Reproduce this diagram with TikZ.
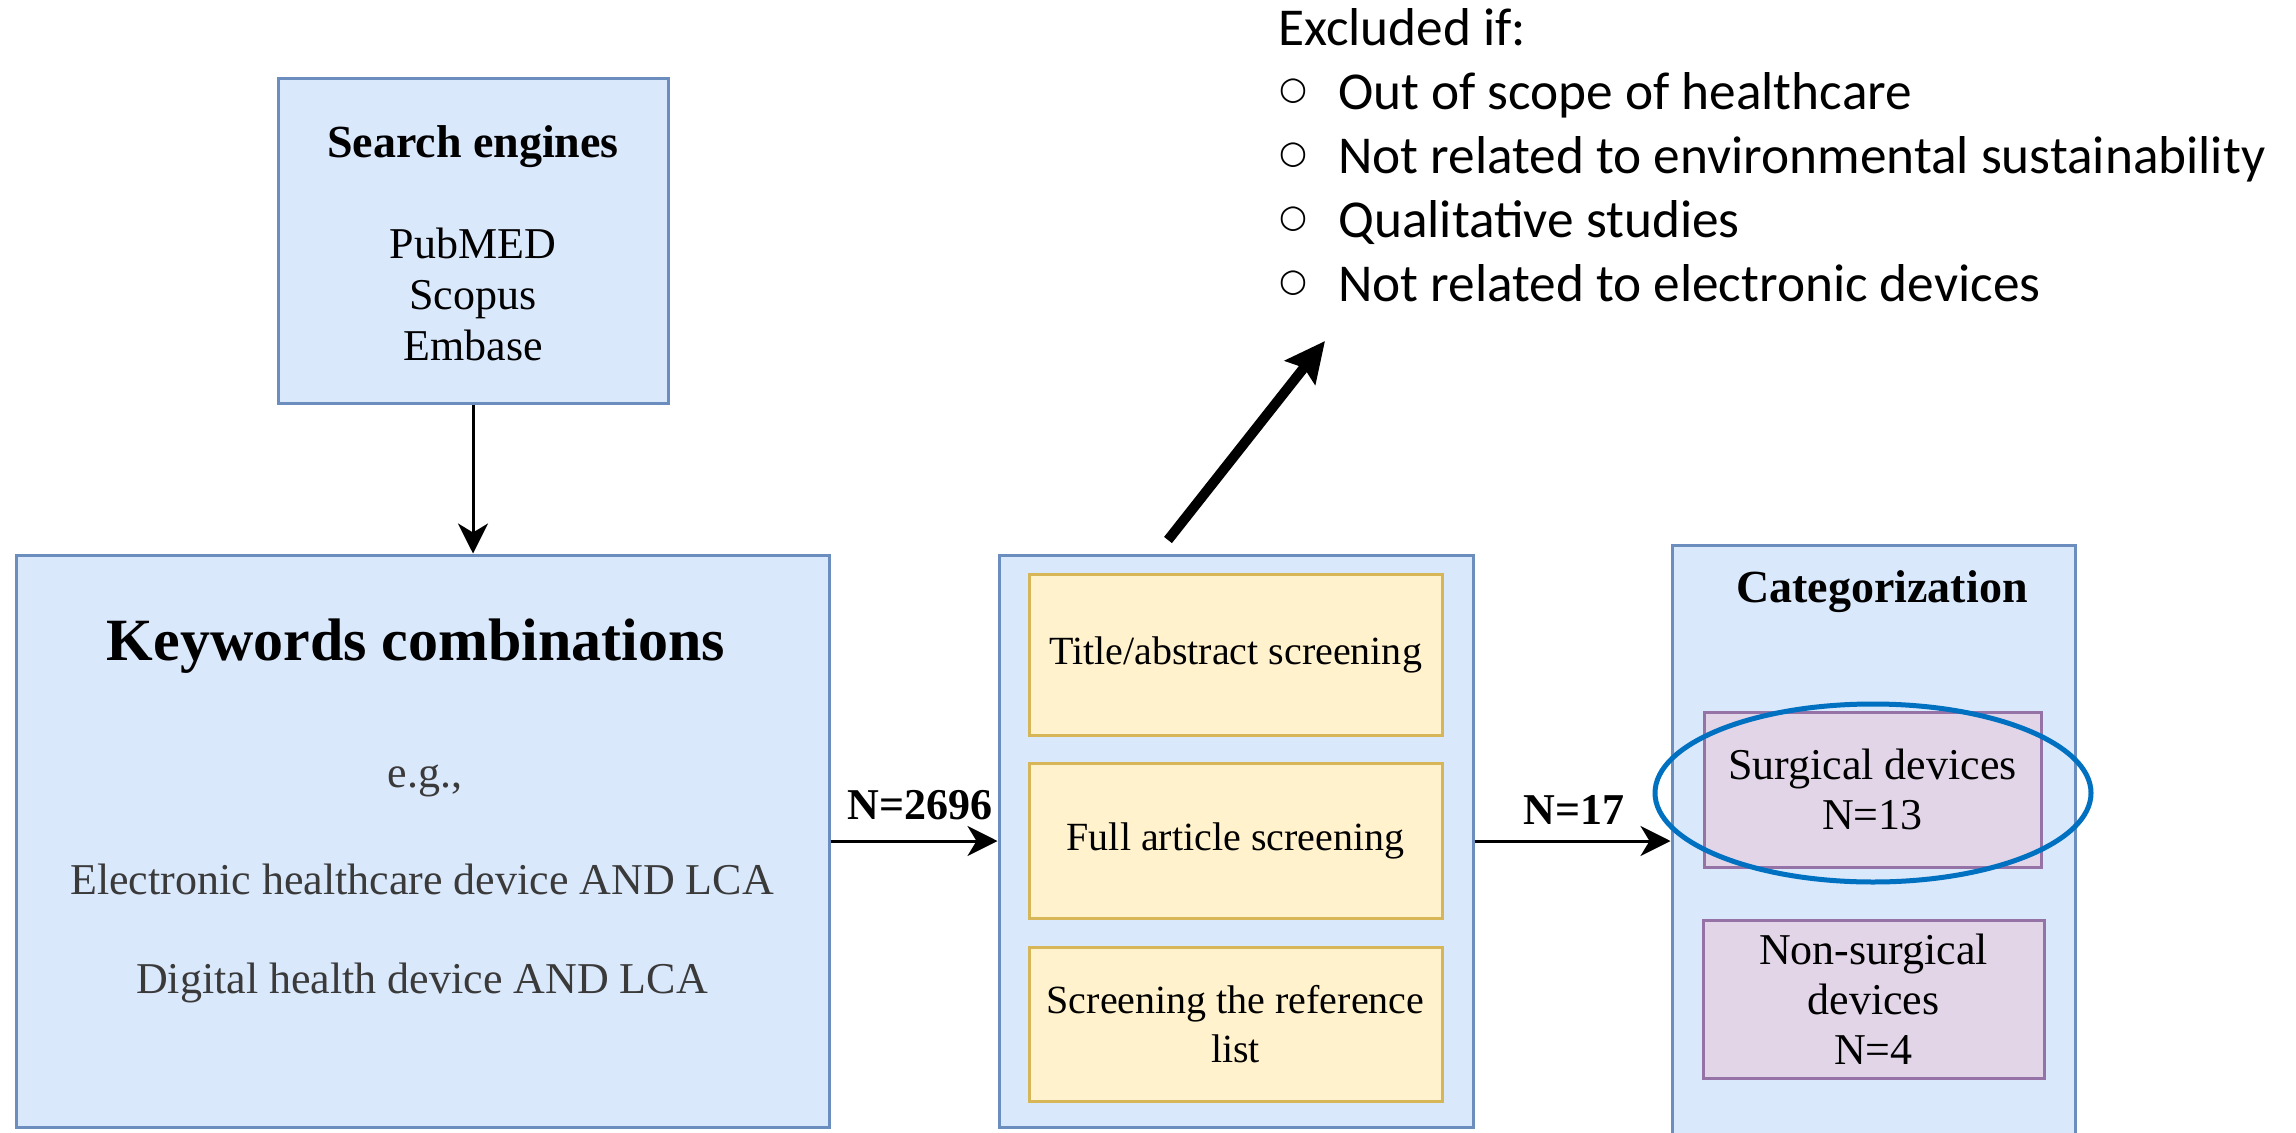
\documentclass[tikz,border=0pt]{standalone}
\usepackage{fontspec}
\setmainfont{Liberation Serif}
\newfontfamily\calib{Carlito}
\newfontfamily\djv{DejaVu Sans}
\usetikzlibrary{arrows.meta,calc,shapes.geometric}
\definecolor{bluefill}{HTML}{DAE8FC}
\definecolor{blueline}{HTML}{6C8EBF}
\definecolor{yelfill}{HTML}{FFF2CC}
\definecolor{yelline}{HTML}{D6B656}
\definecolor{purfill}{HTML}{E1D5E7}
\definecolor{purline}{HTML}{9673A6}
\definecolor{ringblue}{HTML}{0070C0}
\definecolor{softtext}{HTML}{3A3A3A}
\newcommand{\bulmark}{\makebox[60pt][l]{\hspace{1pt}\raisebox{10pt}{\djv\fontsize{32}{32}\selectfont ○}}}
\begin{document}
\begin{tikzpicture}[x=1pt,y=-1pt,
  bluebox/.style={draw=blueline, fill=bluefill, line width=3pt, inner sep=0pt},
  yelbox/.style={draw=yelline, fill=yelfill, line width=3pt, inner sep=0pt, align=center, font=\fontsize{40}{49}\selectfont},
  purbox/.style={draw=purline, fill=purfill, line width=3pt, inner sep=0pt, align=center, font=\fontsize{44}{50}\selectfont},
  txt/.style={inner sep=0pt, align=center},
  head/.style={txt, anchor=base, font=\fontsize{46}{52}\selectfont\bfseries},
  body/.style={txt, anchor=base, font=\fontsize{44}{51}\selectfont},
  flow/.style={line width=3pt, -{Stealth[length=30pt,width=30pt,inset=9pt]}},
  count/.style={txt, font=\fontsize{44}{50}\selectfont\bfseries},
]
\useasboundingbox[fill=white] (0,0) rectangle (2296,1132);

% boxes
\node[bluebox, minimum width=390pt, minimum height=325pt] (se) at (473,240.5) {};
\node[bluebox, minimum width=813pt, minimum height=572pt] (kw) at (422.5,841) {};
\node[bluebox, minimum width=474pt, minimum height=572pt] (mid) at (1236,841) {};
\node[bluebox, minimum width=403pt, minimum height=600pt] (cat) at (1873.5,845) {};

% search engines text
\node[head] (setitle) at (473,157) {Search engines};
\node[body] (selist) at (473,360) {PubMED\\Scopus\\Embase};

% keywords text
\node[txt, anchor=base, font=\fontsize{60}{66}\selectfont\bfseries] (kwtitle) at (416,660) {Keywords combinations};
\node[body, text=softtext] (kweg) at (425,787) {e.g.,};
\node[body, text=softtext] (kwone) at (422,894) {Electronic healthcare device AND LCA};
\node[body, text=softtext] (kwtwo) at (422,993) {Digital health device AND LCA};

% screening steps
\node[yelbox, minimum width=413pt, minimum height=161pt] (ta) at (1235.5,654.5) {Title/abstract screening};
\node[yelbox, minimum width=413pt, minimum height=155pt] (fa) at (1235.5,840.5) {Full article screening};
\node[yelbox, minimum width=413pt, minimum height=154pt] (rl) at (1235.5,1024) {Screening the reference\\list};

% categorization
\node[head] (cattitle) at (1882,602) {Categorization};
\node[purbox, minimum width=337pt, minimum height=155pt] (surg) at (1872.5,789.5) {Surgical devices\\N=13};
\node[purbox, minimum width=341pt, minimum height=158pt] (nonsurg) at (1873.5,999) {Non-surgical\\devices\\N=4};
\node[draw=ringblue, line width=5pt, ellipse, minimum width=436pt, minimum height=178pt, inner sep=0pt] (ring) at (1873,793) {};

% connectors
\draw[flow] (se.south) -- (se.south |- kw.north);
\draw[flow] (kw.east) -- (mid.west);
\draw[flow] (mid.east) -- (mid.east -| cat.west);
\node[count] (n1) at (920,805) {N=2696};
\node[count] (n2) at (1574,810) {N=17};

% exclusion arrow and list
\coordinate (exs) at (1168,540);
\coordinate (exe) at (1325,341);
\draw[line width=10pt, -{Stealth[length=40pt,width=38pt,inset=6pt]}] (exs) -- (exe);
\node[inner sep=0pt, anchor=base west, align=left, font=\calib\fontsize{53.3}{64}\selectfont] (excl) at (1278,301)
 {Excluded if:\\
  \bulmark Out of scope of healthcare\\
  \bulmark Not related to environmental sustainability\\
  \bulmark Qualitative studies\\
  \bulmark Not related to electronic devices};
\end{tikzpicture}
\end{document}
